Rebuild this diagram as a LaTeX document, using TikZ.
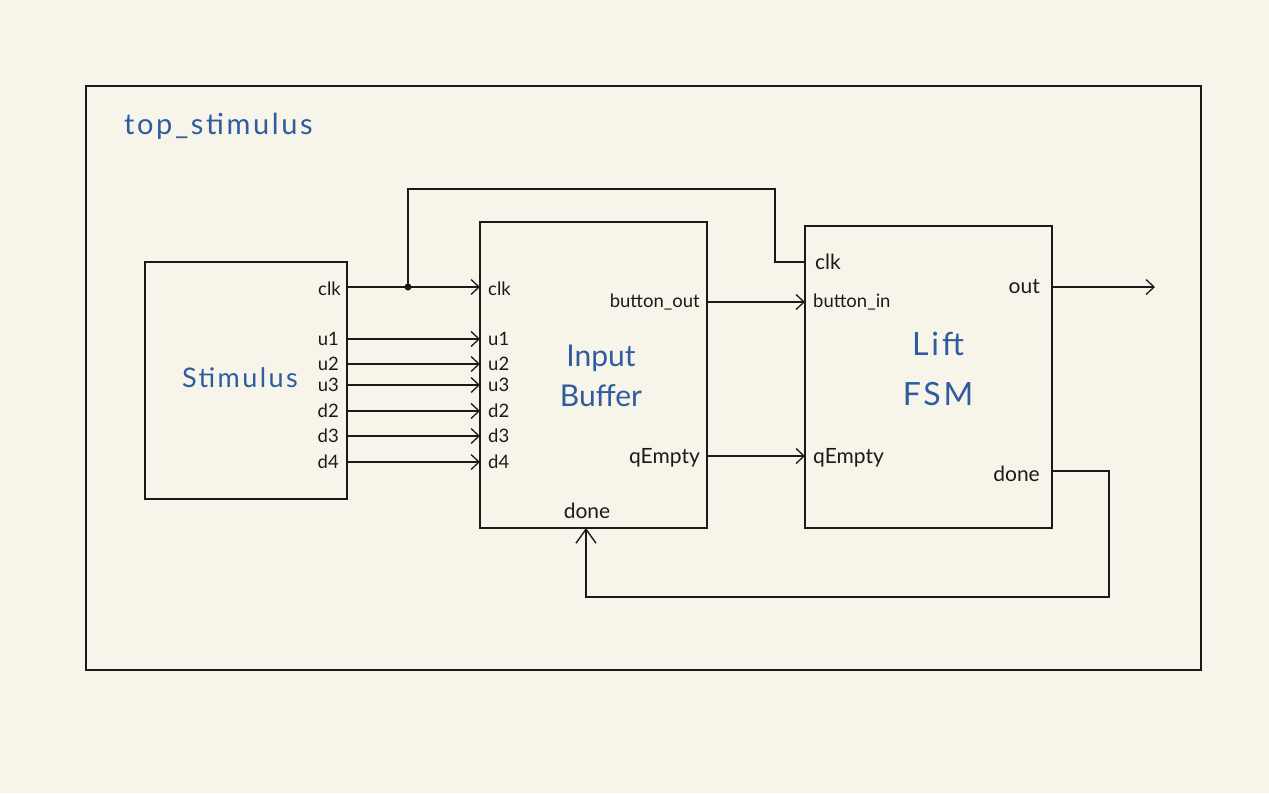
\documentclass[tikz,border=0pt]{standalone}
\usepackage{fontspec}
\setmainfont{Lato}
\newfontfamily\hand[LetterSpace=9]{Lato}
\usetikzlibrary{arrows.meta}
\definecolor{bg}{HTML}{F7F5EA}
\definecolor{ink}{HTML}{1A1A1A}
\definecolor{blu}{HTML}{2E5C9E}
\begin{document}
\begin{tikzpicture}[x=1pt,y=-1pt,
  box/.style={draw=ink, line width=1.3pt, inner sep=0pt, outer sep=0pt, anchor=north west},
  wire/.style={draw=ink, line width=1.3pt},
  sig/.style={wire, -{Straight Barb[length=8pt,width=15pt,line width=1.3pt]}},
  bigsig/.style={wire, -{Straight Barb[length=14pt,width=20pt,line width=1.4pt]}},
  lbl/.style={font=\fontsize{18.5}{20}\selectfont, text=ink, inner sep=0pt},
  lblb/.style={font=\fontsize{21}{24}\selectfont, text=ink, inner sep=0pt},
  ttl/.style={text=blu, align=center, inner sep=0pt}]
\useasboundingbox (0,0) rectangle (1269,793);
\fill[bg] (0,0) rectangle (1269,793);

% frame
\node[box, minimum width=1115pt, minimum height=584pt] (frame) at (86,86) {};
\node[ttl, anchor=west, font=\hand\fontsize{29}{32}\selectfont] (title) at (124,126) {top\_stimulus};

% blocks
\node[box, minimum width=202pt, minimum height=237pt] (stim) at (145,262) {};
\node[box, minimum width=227pt, minimum height=306pt] (buf) at (480,222) {};
\node[box, minimum width=247pt, minimum height=302pt] (fsm) at (805,226) {};

\node[ttl, font=\hand\fontsize{27}{30}\selectfont] (stimname) at (240,378) {Stimulus};
\node[ttl, font=\fontsize{30}{40}\selectfont] (bufname) at (601,376) {Input\\Buffer};
\node[ttl, font=\hand\fontsize{32}{50}\selectfont] (fsmname) at (938,369) {Lift\\FSM};

% Stimulus ports
\node[lbl, anchor=east] (sclk) at (341,289) {clk};
\node[lbl, anchor=east] (su1) at (339,339) {u1};
\node[lbl, anchor=east] (su2) at (339,364) {u2};
\node[lbl, anchor=east] (su3) at (339,385) {u3};
\node[lbl, anchor=east] (sd2) at (339,411) {d2};
\node[lbl, anchor=east] (sd3) at (339,436) {d3};
\node[lbl, anchor=east] (sd4) at (339,462) {d4};

% Input buffer ports
\node[lbl, anchor=west] (bclk) at (488,289) {clk};
\node[lbl, anchor=west] (bu1) at (488,339) {u1};
\node[lbl, anchor=west] (bu2) at (488,364) {u2};
\node[lbl, anchor=west] (bu3) at (488,385) {u3};
\node[lbl, anchor=west] (bd2) at (488,411) {d2};
\node[lbl, anchor=west] (bd3) at (488,436) {d3};
\node[lbl, anchor=west] (bd4) at (488,462) {d4};
\node[lbl, anchor=east] (bbo) at (700,302) {button\_out};
\node[lblb, anchor=east] (bqe) at (700,458) {qEmpty};
\node[lblb] (bdone) at (587,511) {done};

% FSM ports
\node[lblb, anchor=west] (fclk) at (815,262) {clk};
\node[lbl, anchor=west] (fbi) at (813,302) {button\_in};
\node[lblb, anchor=west] (fqe) at (813,458) {qEmpty};
\node[lblb, anchor=east] (fout) at (1040,287) {out};
\node[lblb, anchor=east] (fdone) at (1040,474) {done};

% wires
\coordinate (j) at (408,287);
\coordinate (clktop) at (775,189);
\coordinate (outend) at (1155,287);
\coordinate (loop) at (1109,597);

\draw[sig] (stim.east |- j) -- (buf.west |- j);
\fill[ink] (j) circle (3.5pt);
\draw[wire] (j) |- (clktop) |- (fsm.west |- fclk);
\foreach \s/\b in {su1/bu1, su2/bu2, su3/bu3, sd2/bd2, sd3/bd3, sd4/bd4}
  \draw[sig] (stim.east |- \s) -- (buf.west |- \b);
\draw[sig] (buf.east |- bbo) -- (fsm.west |- fbi);
\draw[sig] (buf.east |- 0,456) -- (fsm.west |- 0,456);
\draw[sig] (fsm.east |- outend) -- (outend);
\draw[bigsig] (fsm.east |- 0,471) -| (loop) -| (buf.south -| 586,0);
\end{tikzpicture}
\end{document}
